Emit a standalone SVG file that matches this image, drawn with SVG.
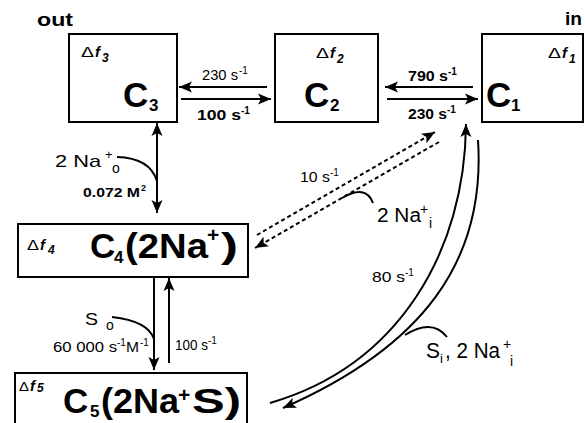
<svg xmlns="http://www.w3.org/2000/svg" width="585" height="423" viewBox="0 0 585 423">
<defs>
<marker id="ah" markerUnits="userSpaceOnUse" markerWidth="14" markerHeight="12" refX="13" refY="6" orient="auto-start-reverse">
<path d="M0,0.5 L13,6 L0,11.5 L3,6 z" fill="#000"/>
</marker>
<style>
text{font-family:"Liberation Sans",Arial,sans-serif;fill:#000}
.box{fill:#fff;stroke:#000;stroke-width:2}
.big{font-size:35px;font-weight:bold}
.bsub{font-size:17px;font-weight:bold}
.bsup{font-size:21px;font-weight:bold}
.dl{font-size:15px}
.fi{font-size:15px;font-weight:bold;font-style:italic}
.fs{font-size:12px;font-weight:bold;font-style:italic}
.lbl{font-size:14px}
.b{font-weight:bold}
.sup{font-size:10px}
.ln{fill:none;stroke:#000;stroke-width:2}
.arr{marker-end:url(#ah)}
.dash{stroke-dasharray:4 3}
.hdr{font-size:19px;font-weight:bold}
</style>
</defs>
<rect width="585" height="423" fill="#fff"/>
<text x="37" y="26" class="hdr" textLength="36" lengthAdjust="spacingAndGlyphs">out</text>
<text x="565" y="25" class="hdr" textLength="17" lengthAdjust="spacingAndGlyphs">in</text>

<g id="C3">
<rect class="box" x="69" y="34" width="108" height="88"/>
<text x="81" y="57" class="dl" textLength="13" lengthAdjust="spacingAndGlyphs">Δ</text>
<text x="95" y="57" class="fi">f</text>
<text x="102" y="62" class="fs">3</text>
<text x="123" y="107" class="big">C</text>
<text x="149" y="111" class="bsub">3</text>
</g>
<g id="C2">
<rect class="box" x="275" y="34" width="103" height="88"/>
<text x="316" y="58" class="dl" textLength="13" lengthAdjust="spacingAndGlyphs">Δ</text>
<text x="330" y="58" class="fi">f</text>
<text x="337" y="63" class="fs">2</text>
<text x="304" y="107" class="big">C</text>
<text x="330" y="111" class="bsub">2</text>
</g>
<g id="C1">
<rect class="box" x="482" y="34" width="101" height="88"/>
<text x="548" y="58" class="dl" textLength="13" lengthAdjust="spacingAndGlyphs">Δ</text>
<text x="562" y="58" class="fi">f</text>
<text x="569" y="63" class="fs">1</text>
<text x="486" y="107" class="big">C</text>
<text x="511" y="111" class="bsub">1</text>
</g>
<g id="C4">
<rect class="box" x="18" y="224" width="230" height="53"/>
<text x="27" y="250" class="dl" textLength="12" lengthAdjust="spacingAndGlyphs">Δ</text>
<text x="40" y="250" class="fi">f</text>
<text x="48" y="254" class="fs">4</text>
<text x="90" y="258" class="big">C</text>
<text x="114" y="263" class="bsub">4</text>
<text x="125" y="258" class="big" textLength="83" lengthAdjust="spacingAndGlyphs">(2Na</text>
<text x="207" y="242" class="bsup">+</text>
<text x="221" y="258" class="big" textLength="17" lengthAdjust="spacingAndGlyphs">)</text>
</g>
<g id="C5">
<rect class="box" x="15" y="373" width="232" height="60"/>
<text x="19" y="391" font-size="12" textLength="10" lengthAdjust="spacingAndGlyphs">Δ</text>
<text x="30" y="391" class="fi" font-size="12">f</text>
<text x="37" y="392" class="fs">5</text>
<text x="63" y="413" class="big">C</text>
<text x="90" y="417" class="bsub">5</text>
<text x="101" y="413" class="big" textLength="78" lengthAdjust="spacingAndGlyphs">(2Na</text>
<text x="178" y="402" class="bsup">+</text>
<text x="192" y="413" class="big" textLength="49" lengthAdjust="spacingAndGlyphs">S)</text>
</g>

<g id="connectors">
<line class="ln arr" x1="267" y1="87" x2="179" y2="87"/>
<line class="ln arr" x1="181" y1="99" x2="271" y2="99"/>
<line class="ln arr" x1="473" y1="87" x2="385" y2="87"/>
<line class="ln arr" x1="387" y1="99" x2="478" y2="99"/>
<line class="ln arr" x1="157" y1="213" x2="157" y2="123" style="marker-start:url(#ah)"/>
<path class="ln" d="M117,157 Q150,158 157,181"/>
<line class="ln arr" x1="154" y1="277" x2="154" y2="370"/>
<line class="ln arr" x1="169" y1="363" x2="169" y2="278"/>
<path class="ln" d="M112,317 Q148,321 154,339"/>
<line class="ln arr dash" x1="257" y1="235" x2="435" y2="132"/>
<line class="ln arr dash" x1="439" y1="142" x2="255" y2="248"/>
<path class="ln" d="M342,198 Q366,184 373,203"/>
<path class="ln arr" d="M270,403 C400,365 465,250 466,124"/>
<path class="ln arr" d="M478,140 C486,262 422,347 283,408"/>
<path class="ln" d="M405,335 Q432,318 447,337"/>
</g>

<g id="labels">
<text x="202" y="80" class="lbl" textLength="36" lengthAdjust="spacingAndGlyphs">230 s</text>
<text x="239" y="74" class="sup">-1</text>
<text x="197" y="120" class="lbl b" textLength="44" lengthAdjust="spacingAndGlyphs">100 s</text>
<text x="241" y="114" class="sup b">-1</text>
<text x="408" y="81" class="lbl b" textLength="40" lengthAdjust="spacingAndGlyphs">790 s</text>
<text x="448" y="75" class="sup b">-1</text>
<text x="408" y="119" class="lbl b" textLength="39" lengthAdjust="spacingAndGlyphs">230 s</text>
<text x="447" y="113" class="sup b">-1</text>
<text x="55" y="167" font-size="17" textLength="46" lengthAdjust="spacingAndGlyphs">2 Na</text>
<text x="105" y="159" font-size="13">+</text>
<text x="112" y="173" font-size="14">o</text>
<text x="83" y="197" font-size="12.5" class="b" textLength="57" lengthAdjust="spacingAndGlyphs">0.072 M</text>
<text x="141" y="191" font-size="9" class="b">2</text>
<text x="300" y="182" font-size="15" textLength="30" lengthAdjust="spacingAndGlyphs">10 s</text>
<text x="330" y="176" class="sup">-1</text>
<text x="377" y="222" font-size="20" textLength="44" lengthAdjust="spacingAndGlyphs">2 Na</text>
<text x="420" y="214" font-size="14">+</text>
<text x="429" y="228" font-size="14">i</text>
<text x="372" y="282" font-size="15" textLength="33" lengthAdjust="spacingAndGlyphs">80 s</text>
<text x="405" y="276" class="sup">-1</text>
<text x="85" y="325" font-size="17" textLength="13" lengthAdjust="spacingAndGlyphs">S</text>
<text x="106" y="330" font-size="14">o</text>
<text x="53" y="352" font-size="14" textLength="64" lengthAdjust="spacingAndGlyphs">60 000 s</text>
<text x="117" y="346" class="sup">-1</text>
<text x="126" y="352" font-size="14" textLength="13" lengthAdjust="spacingAndGlyphs">M</text>
<text x="140" y="346" class="sup">-1</text>
<text x="175" y="350" font-size="14" textLength="33" lengthAdjust="spacingAndGlyphs">100 s</text>
<text x="208" y="344" class="sup">-1</text>
<text x="426" y="358" font-size="22" textLength="14" lengthAdjust="spacingAndGlyphs">S</text>
<text x="440" y="363" font-size="13">i</text>
<text x="445" y="358" font-size="22" textLength="55" lengthAdjust="spacingAndGlyphs">, 2 Na</text>
<text x="503" y="349" font-size="14">+</text>
<text x="510" y="366" font-size="14">i</text>
</g>
</svg>
